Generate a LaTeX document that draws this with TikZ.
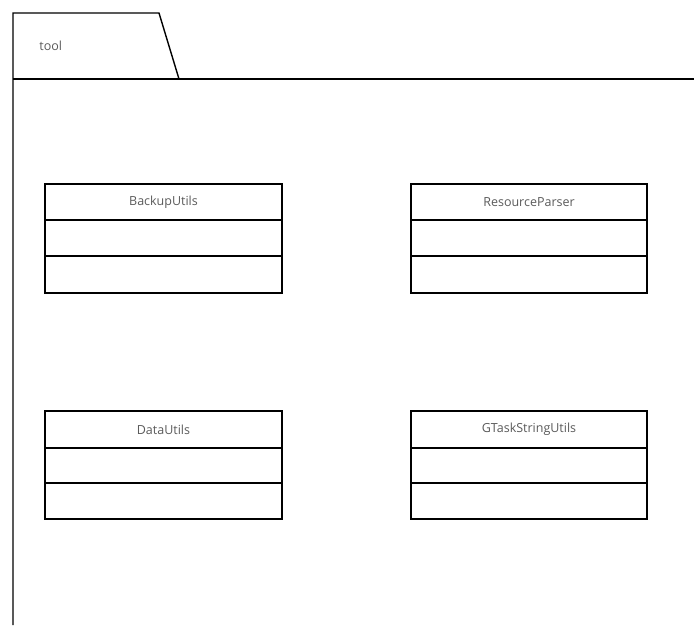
\documentclass[tikz,border=0pt]{standalone}
\usepackage{fontspec}
\setmainfont{Open Sans}
\definecolor{labelgray}{RGB}{90,90,90}
\tikzset{every picture/.style={line width=1.4pt}}

\begin{document}
\begin{tikzpicture}[x=1pt,y=1pt,yscale=-1,xscale=1]
\useasboundingbox (0,0) rectangle (694,625);
%Shape: Package [id:dp4417206930815]
\draw  [line join = miter] (13,625) -- (13,13) -- (159,13) -- (179,79) ;
%Straight Lines [id:da2290571843306]
\draw    (13,79) -- (694,79) ;

%Shape: Rectangle [id:dp7305512280941]
\draw   (45,184) rectangle (282,293) ;
\draw    (45,220) -- (282,220) ;
\draw    (45,256) -- (282,256) ;
%Shape: Rectangle [id:dp1839620567412]
\draw   (411,184) rectangle (647,293) ;
\draw    (411,220) -- (647,220) ;
\draw    (411,256) -- (647,256) ;
%Shape: Rectangle [id:dp6658201937715]
\draw   (45,411) rectangle (282,519) ;
\draw    (45,448) -- (282,448) ;
\draw    (45,483) -- (282,483) ;
%Shape: Rectangle [id:dp3075418826649]
\draw   (411,411) rectangle (647,519) ;
\draw    (411,448) -- (647,448) ;
\draw    (411,483) -- (647,483) ;

% Text Node
\draw (38,46) node [anchor=west][inner sep=0.75pt]  [text=labelgray,font=\fontsize{12.5}{15}\selectfont] (pkgname) {tool};
% Text Node
\draw (163.5,202) node [inner sep=0.75pt]  [text=labelgray,font=\fontsize{12.5}{15}\selectfont] (backup) {BackupUtils};
% Text Node
\draw (529,202) node [inner sep=0.75pt]  [text=labelgray,font=\fontsize{12.5}{15}\selectfont] (resparser) {ResourceParser};
% Text Node
\draw (163.5,429.5) node [inner sep=0.75pt]  [text=labelgray,font=\fontsize{12.5}{15}\selectfont] (datautils) {DataUtils};
% Text Node
\draw (529,429.5) node [inner sep=0.75pt]  [text=labelgray,font=\fontsize{12.5}{15}\selectfont] (gtask) {GTaskStringUtils};
\end{tikzpicture}
\end{document}
